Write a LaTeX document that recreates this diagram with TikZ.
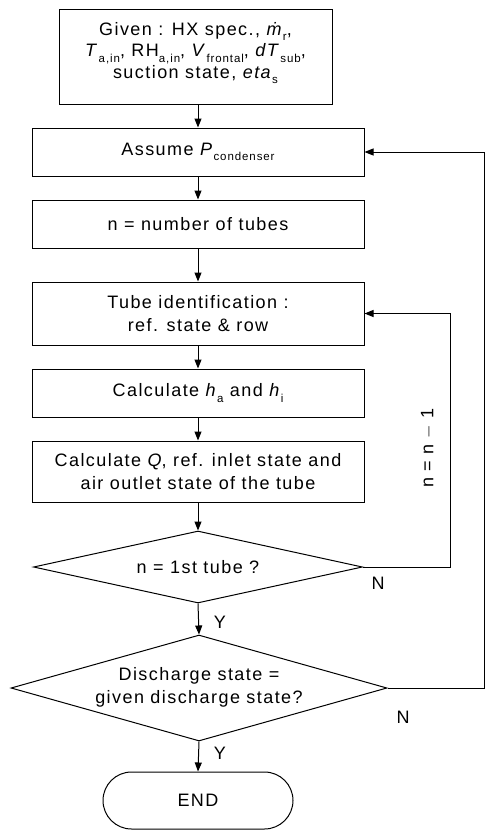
\documentclass[tikz,border=0pt]{standalone}
\usepackage{fontspec}
\setmainfont{Liberation Sans}[LetterSpace=8]
\usetikzlibrary{shapes.geometric,shapes.misc,arrows.meta}
\newcommand{\sbs}[1]{\raisebox{-5.5pt}{\fontsize{11.5}{11.5}\selectfont #1}}
\newcommand{\itl}[1]{\textit{#1}}
\begin{document}
\begin{tikzpicture}[x=1pt,y=-1pt,
  every node/.style={font=\fontsize{18}{23}\selectfont},
  box/.style={draw, line width=1pt, inner sep=0pt, align=center, minimum width=332pt},
  dia/.style={draw, diamond, line width=1pt, inner sep=0pt},
  term/.style={draw, rounded rectangle, line width=1pt, inner sep=0pt, minimum width=190pt, minimum height=57pt},
  arr/.style={line width=1pt, -{Triangle[length=9pt,width=7pt]}}]
\useasboundingbox (0,0) rectangle (486,830);
\node[box, minimum width=273pt, minimum height=95pt] (given) at (195.5,56.5) {};
\node[align=center, font=\fontsize{18}{21.5}\selectfont] (givent) at (195.5,53)
  {Given : HX spec., \itl{\.{m}}\sbs{r},\\
   \itl{T}\sbs{a,in}, RH\sbs{a,in}, \itl{V}\sbs{frontal}, \itl{dT}\sbs{sub},\\
   suction state, \itl{eta}\sbs{s}};
\node[box, minimum height=48pt] (assume) at (198,152) {Assume \itl{P}\sbs{condenser}};
\node[box, minimum height=48pt] (nbox) at (198,224) {n = number of tubes};
\node[box, minimum height=63pt] (tube) at (198,313.5) {Tube identification :\\ref. state \& row};
\node[box, minimum height=48pt] (calch) at (198,393) {Calculate \itl{h}\sbs{a} and \itl{h}\sbs{i}};
\node[box, minimum height=61pt] (calcq) at (198,471.5) {Calculate \itl{Q}, ref. inlet state and\\air outlet state of the tube};
\node[dia, minimum width=329pt, minimum height=72pt] (d1) at (198,567) {};
\node (d1t) at (198,567) {n = 1st tube ?};
\node[dia, minimum width=376pt, minimum height=106pt] (d2) at (199,688) {};
\node[align=center] (d2t) at (199,687) {Discharge state =\\given discharge state?};
\node[term] (endn) at (198,800.5) {END};
\coordinate (c1) at (450,567);
\coordinate (c2) at (484,688);
\draw[arr] (assume.north |- given.south) -- (assume.north);
\draw[arr] (assume) -- (nbox);
\draw[arr] (nbox) -- (tube);
\draw[arr] (tube) -- (calch);
\draw[arr] (calch) -- (calcq);
\draw[arr] (calcq.south) -- (d1.north);
\draw[arr] (d1.south) -- (d2.north);
\draw[arr] (d2.south) -- (endn.north);
\draw[arr] (d1.east) -- (c1) |- (tube.east);
\draw[arr] (d2.east) -- (c2) |- (assume.east);
\node[rotate=90] (nlab) at (428,448) {n = n $-$ 1};
\node (n1) at (378,583) {N};
\node (n2) at (403,717) {N};
\node (y1) at (220,622) {Y};
\node (y2) at (220,753) {Y};
\end{tikzpicture}
\end{document}
